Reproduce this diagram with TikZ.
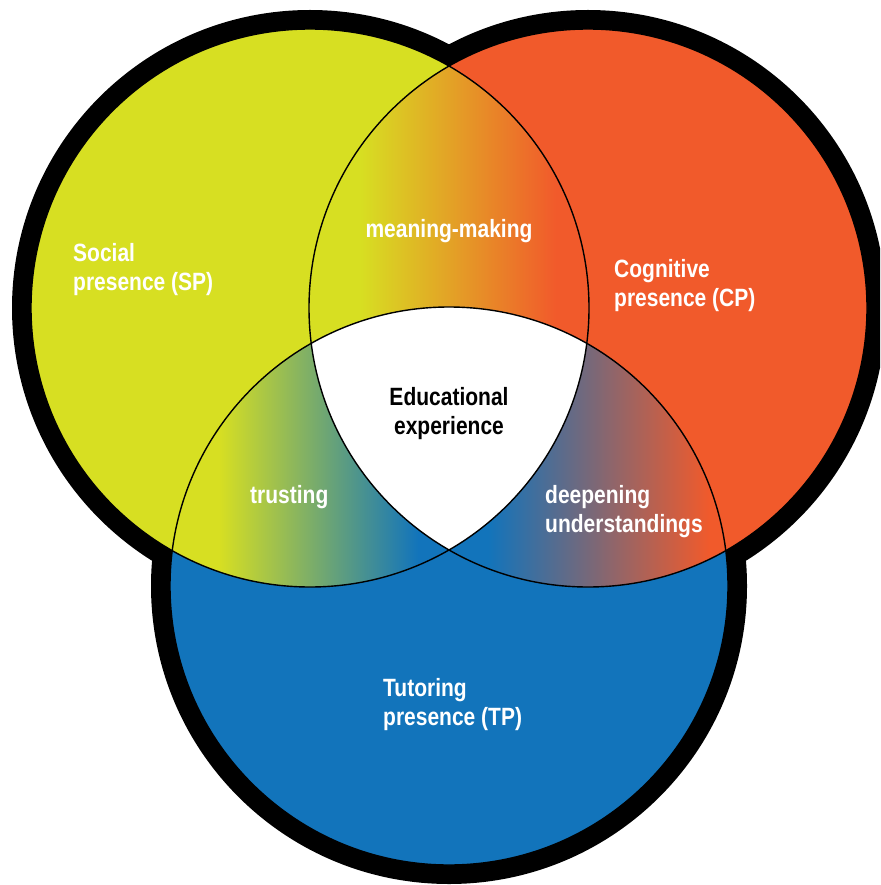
\documentclass[tikz,border=0pt]{standalone}
\usepackage{fontspec}
\newfontfamily\labfont[FakeStretch=0.84]{Liberation Sans}
\definecolor{spcol}{RGB}{215,223,34}
\definecolor{cpcol}{RGB}{241,90,43}
\definecolor{tpcol}{RGB}{18,116,187}
\begin{document}
\begin{tikzpicture}[x=1pt,y=-1pt,
  lbl/.style={font=\labfont\bfseries\fontsize{25}{29.5}\selectfont, text=white, inner sep=0pt},
  thinring/.style={line width=1.4pt, draw=black},
  outer/.style={fill=black}]
\useasboundingbox (0,0) rectangle (880,885);
\clip (0,0) rectangle (880,885);
\coordinate (L) at (310,308);
\coordinate (R) at (588,308);
\coordinate (B) at (449,586);
% thick black outline
\fill[outer] (L) circle[radius=298pt];
\fill[outer] (R) circle[radius=298pt];
\fill[outer] (B) circle[radius=298pt];
% base colours
\fill[spcol] (L) circle[radius=279pt];
\fill[cpcol] (R) circle[radius=279pt];
\fill[tpcol] (B) circle[radius=279pt];
% SP & CP overlap
\begin{scope}
\clip (L) circle[radius=279pt];
\clip (R) circle[radius=279pt];
\fill[spcol] (290,0) rectangle (360,620);
\shade[left color=spcol,right color=cpcol] (360,0) rectangle (556,620);
\fill[cpcol] (556,0) rectangle (620,620);
\end{scope}
% SP & TP overlap
\begin{scope}
\clip (L) circle[radius=279pt];
\clip (B) circle[radius=279pt];
\fill[spcol] (150,0) rectangle (219,620);
\shade[left color=spcol,right color=tpcol] (219,0) rectangle (418,620);
\fill[tpcol] (418,0) rectangle (600,620);
\end{scope}
% CP & TP overlap
\begin{scope}
\clip (R) circle[radius=279pt];
\clip (B) circle[radius=279pt];
\fill[tpcol] (300,0) rectangle (488,620);
\shade[left color=tpcol,right color=cpcol] (488,0) rectangle (710,620);
\fill[cpcol] (710,0) rectangle (760,620);
\end{scope}
% centre
\begin{scope}
\clip (L) circle[radius=279pt];
\clip (R) circle[radius=279pt];
\clip (B) circle[radius=279pt];
\fill[white] (0,0) rectangle (880,885);
\end{scope}
% thin circle lines
\draw[thinring] (L) circle[radius=279pt];
\draw[thinring] (R) circle[radius=279pt];
\draw[thinring] (B) circle[radius=279pt];
% labels
\node[lbl, anchor=base west] (sp) at (73,261) {\begin{tabular}[t]{@{}l@{}}Social\\presence (SP)\end{tabular}};
\node[lbl, anchor=base west] (cp) at (614,277) {\begin{tabular}[t]{@{}l@{}}Cognitive\\presence (CP)\end{tabular}};
\node[lbl, anchor=base west] (tp) at (383,696) {\begin{tabular}[t]{@{}l@{}}Tutoring\\presence (TP)\end{tabular}};
\node[lbl, anchor=base] (mm) at (449,237) {meaning-making};
\node[lbl, anchor=base west] (tr) at (250,503) {trusting};
\node[lbl, anchor=base west] (du) at (545,503) {\begin{tabular}[t]{@{}l@{}}deepening\\understandings\end{tabular}};
\node[lbl, text=black, anchor=base] (ee) at (449,405) {\begin{tabular}[t]{@{}c@{}}Educational\\experience\end{tabular}};
\end{tikzpicture}
\end{document}
